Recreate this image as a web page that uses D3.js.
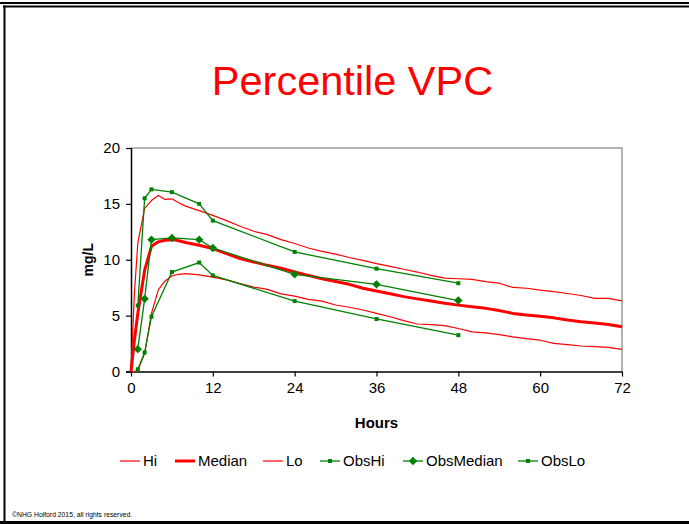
<!DOCTYPE html>
<html>
<head>
<meta charset="utf-8">
<script src="https://cdn.jsdelivr.net/npm/d3@7"></script>
<style>
  html, body { margin: 0; padding: 0; background: #fff; }
  svg { display: block; }
  text { font-family: "Liberation Sans", Arial, sans-serif; }
</style>
</head>
<body>
<script>
// Predicted percentiles (simulation) on a common time grid
const predTime = [0,0.5,1,2,3,4,5,6,7,8,10,12,14,16,18,20,22,24,26,28,30,32,34,36,38,40,42,44,46,48,50,52,54,56,58,60,62,64,66,68,70,72];
const hi     = [0,7,11.5,14.6,15.3,15.75,15.4,15.45,15.1,14.8,14.4,13.97,13.5,13.0,12.55,12.25,11.8,11.45,11.05,10.75,10.5,10.2,9.95,9.66,9.4,9.15,8.9,8.6,8.35,8.3,8.25,8.05,7.9,7.52,7.45,7.28,7.15,6.98,6.8,6.54,6.55,6.32];
const median = [0,2.8,5.2,9.06,11.2,11.6,11.75,11.8,11.7,11.55,11.3,11.0,10.55,10.1,9.8,9.5,9.25,8.9,8.6,8.3,8.05,7.8,7.45,7.2,6.95,6.7,6.5,6.3,6.1,5.94,5.8,5.65,5.45,5.2,5.05,4.95,4.8,4.6,4.45,4.35,4.2,4.0];
const lo     = [0,0,0.1,1.6,5.2,7.3,8.1,8.55,8.7,8.75,8.65,8.45,8.2,7.87,7.55,7.35,6.95,6.75,6.45,6.3,5.95,5.75,5.5,5.2,4.9,4.55,4.25,4.2,4.1,3.85,3.55,3.45,3.3,3.1,2.95,2.8,2.52,2.4,2.28,2.22,2.16,1.98];

// Observed percentiles at sampling times
const obsTime   = [1,2,3,6,10,12,24,36,48];
const obsHi     = [5.9,15.5,16.3,16.05,15.0,13.5,10.7,9.2,7.9];
const obsMedian = [2.0,6.5,11.8,11.95,11.8,11.05,8.7,7.8,6.35];
const obsLo     = [0.2,1.7,4.9,8.9,9.75,8.6,6.3,4.7,3.25];

const xTicks = [0,12,24,36,48,60,72];
const yTicks = [0,5,10,15,20];

const W = 689, H = 524;
const plot = { left: 131, right: 622, top: 148, bottom: 371.5 };
const RED = "#ff0000", GREEN = "#008000";

const svg = d3.select("body").append("svg").attr("width", W).attr("height", H);

// Slide frame
svg.append("rect").attr("x", 0).attr("y", 0).attr("width", W).attr("height", H).attr("fill", "#fff");
svg.append("line").attr("x1", 0).attr("x2", W).attr("y1", 3).attr("y2", 3).attr("stroke", "#000").attr("stroke-width", 2);
svg.append("line").attr("x1", 3).attr("x2", W).attr("y1", 6.5).attr("y2", 6.5).attr("stroke", "#000").attr("stroke-width", 2);
svg.append("line").attr("x1", 4.5).attr("x2", 4.5).attr("y1", 5.5).attr("y2", 523).attr("stroke", "#000").attr("stroke-width", 2);
svg.append("line").attr("x1", 0).attr("x2", W).attr("y1", 522.5).attr("y2", 522.5).attr("stroke", "#000").attr("stroke-width", 3);

// Title
svg.append("text").attr("x", 352.5).attr("y", 95).attr("text-anchor", "middle")
  .attr("font-size", 41.5).attr("fill", RED).text("Percentile VPC");

const x = d3.scaleLinear().domain([0, 72]).range([plot.left, plot.right]);
const y = d3.scaleLinear().domain([0, 20]).range([plot.bottom, plot.top]);

// Plot frame (top/right)
svg.append("path")
  .attr("d", `M${plot.left},${plot.top}H${plot.right}V${plot.bottom}`)
  .attr("fill", "none").attr("stroke", "#9a9a9a").attr("stroke-width", 1.5);

// Axes
const xAxis = svg.append("g").attr("transform", `translate(0,${plot.bottom})`)
  .call(d3.axisBottom(x).tickValues(xTicks).tickSize(5).tickPadding(6).tickFormat(d3.format("d")));
const yAxis = svg.append("g").attr("transform", `translate(${plot.left},0)`)
  .call(d3.axisLeft(y).tickValues(yTicks).tickSize(5).tickPadding(6).tickFormat(d3.format("d")));
[xAxis, yAxis].forEach(g => {
  g.select(".domain").attr("stroke", "#000").attr("stroke-width", 1.5);
  g.selectAll(".tick line").attr("stroke", "#000").attr("stroke-width", 1.2);
  g.selectAll(".tick text").attr("font-size", 15).attr("fill", "#000")
    .attr("font-family", "'Liberation Sans', Arial, sans-serif");
});
xAxis.select(".domain").attr("d", `M${plot.left - 5},0.5H${plot.right}`);
yAxis.select(".domain").attr("d", `M0.5,${plot.top}V${plot.bottom}`);

// Axis titles
svg.append("text").attr("x", x(36)).attr("y", 428).attr("text-anchor", "middle")
  .attr("font-size", 15).attr("font-weight", "bold").text("Hours");
svg.append("text").attr("transform", `translate(93,${y(10)}) rotate(-90)`)
  .attr("text-anchor", "middle").attr("font-size", 14).attr("font-weight", "bold").text("mg/L");

const line = d3.line().x(d => x(d[0])).y(d => y(d[1]));
const g = svg.append("g");

// Predicted percentile lines
const pred = [
  { name: "Hi", vals: hi, w: 1.2 },
  { name: "Median", vals: median, w: 3 },
  { name: "Lo", vals: lo, w: 1.2 }
];
pred.forEach(s => {
  g.append("path").datum(predTime.map((t, i) => [t, s.vals[i]]))
    .attr("d", line).attr("fill", "none").attr("stroke", RED)
    .attr("stroke-width", s.w).attr("stroke-linejoin", "round");
});

// Observed percentile lines with markers
const obs = [
  { name: "ObsHi", vals: obsHi, marker: "square" },
  { name: "ObsMedian", vals: obsMedian, marker: "diamond" },
  { name: "ObsLo", vals: obsLo, marker: "square" }
];
function drawMarker(sel, type, cx, cy) {
  if (type === "diamond") {
    sel.append("path").attr("d", `M${cx},${cy - 4.2}L${cx + 4.2},${cy}L${cx},${cy + 4.2}L${cx - 4.2},${cy}Z`)
      .attr("fill", GREEN);
  } else {
    sel.append("rect").attr("x", cx - 2).attr("y", cy - 2).attr("width", 4).attr("height", 4)
      .attr("fill", GREEN);
  }
}
obs.forEach(s => {
  const pts = obsTime.map((t, i) => [t, s.vals[i]]);
  g.append("path").datum(pts).attr("d", line).attr("fill", "none")
    .attr("stroke", GREEN).attr("stroke-width", 1.3);
  pts.forEach(p => drawMarker(g, s.marker, x(p[0]), y(p[1])));
});

// Legend
const legendY = 461;
const legendItems = [
  { name: "Hi", x: 120, color: RED, w: 1.2, marker: null },
  { name: "Median", x: 175, color: RED, w: 3, marker: null },
  { name: "Lo", x: 263, color: RED, w: 1.2, marker: null },
  { name: "ObsHi", x: 320, color: GREEN, w: 1.3, marker: "square" },
  { name: "ObsMedian", x: 403, color: GREEN, w: 1.3, marker: "diamond" },
  { name: "ObsLo", x: 518, color: GREEN, w: 1.3, marker: "square" }
];
const lg = svg.append("g");
legendItems.forEach(it => {
  lg.append("line").attr("x1", it.x).attr("x2", it.x + 20).attr("y1", legendY).attr("y2", legendY)
    .attr("stroke", it.color).attr("stroke-width", it.w);
  if (it.marker) drawMarker(lg, it.marker, it.x + 10, legendY);
  lg.append("text").attr("x", it.x + 23).attr("y", legendY + 5).attr("font-size", 15).attr("fill", "#000").text(it.name);
});

// Footer
svg.append("text").attr("x", 12).attr("y", 517).attr("font-size", 6.8).attr("fill", "#000")
  .text("©NHG Holford 2015, all rights reserved.");
</script>
</body>
</html>
